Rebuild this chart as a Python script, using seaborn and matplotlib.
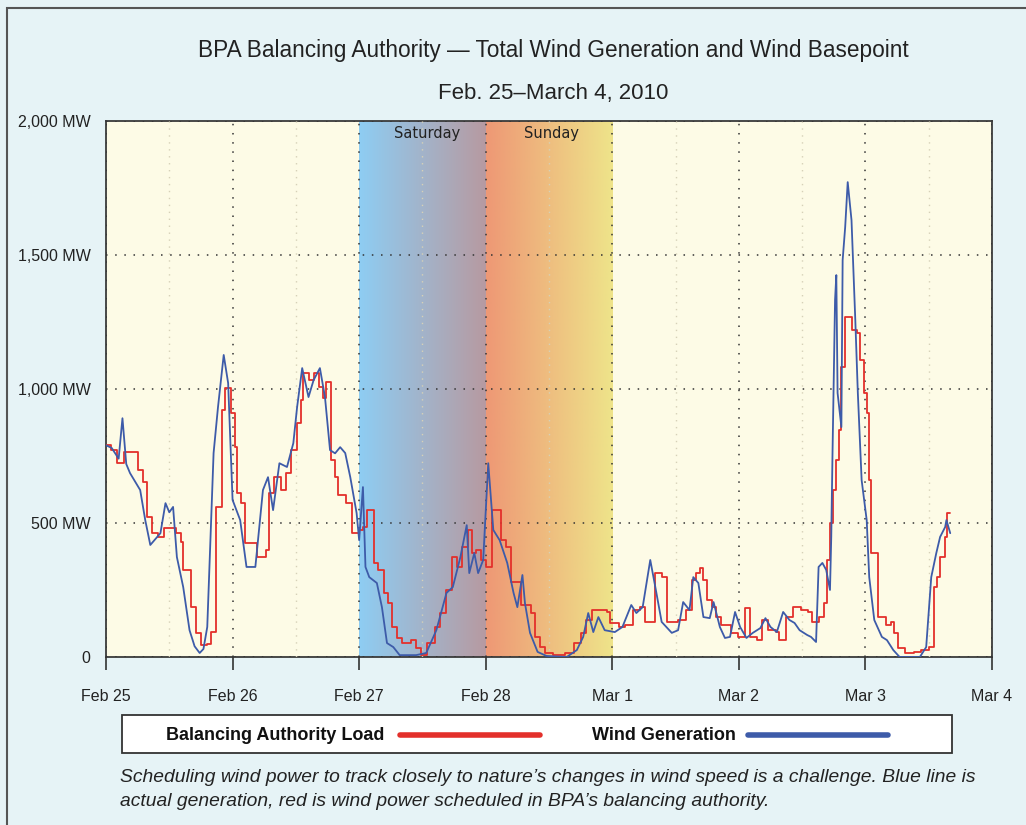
import numpy as np
import pandas as pd
import seaborn as sns
import matplotlib.pyplot as plt
from matplotlib.patches import Rectangle
from matplotlib.lines import Line2D
from matplotlib.colors import to_rgb

# days since Feb 25 00:00, MW
wind_days = [0.0, 0.045, 0.10, 0.13, 0.16, 0.19, 0.27, 0.31, 0.35, 0.39, 0.43, 0.47, 0.50, 0.53, 0.56,
             0.61, 0.66, 0.70, 0.74, 0.77, 0.80, 0.85, 0.885, 0.93, 0.965, 1.0, 1.06, 1.11, 1.18, 1.24,
             1.28, 1.32, 1.37, 1.43, 1.48, 1.51, 1.55, 1.60, 1.64, 1.69, 1.73, 1.77, 1.81, 1.85, 1.89,
             1.93, 1.98, 2.0, 2.03, 2.05, 2.08, 2.14, 2.18, 2.22, 2.27, 2.32, 2.45, 2.53, 2.61, 2.69,
             2.74, 2.80, 2.85, 2.87, 2.91, 2.94, 2.98, 3.02, 3.06, 3.11, 3.17, 3.22, 3.25, 3.29, 3.31,
             3.35, 3.41, 3.48, 3.64, 3.72, 3.77, 3.81, 3.85, 3.89, 3.94, 4.02, 4.08, 4.15, 4.19, 4.24,
             4.30, 4.34, 4.39, 4.47, 4.52, 4.56, 4.61, 4.64, 4.68, 4.72, 4.77, 4.80, 4.85, 4.89, 4.93,
             4.97, 5.01, 5.06, 5.11, 5.17, 5.21, 5.25, 5.30, 5.35, 5.40, 5.44, 5.48, 5.54, 5.57, 5.61,
             5.63, 5.66, 5.69, 5.72, 5.73, 5.74, 5.76, 5.77, 5.78, 5.81, 5.82, 5.84, 5.86, 5.89, 5.92,
             5.94, 5.97, 6.01, 6.03, 6.07, 6.13, 6.17, 6.22, 6.27, 6.43, 6.48, 6.52, 6.56, 6.59, 6.63,
             6.64, 6.67]
wind_mw = [790, 780, 740, 891, 720, 686, 623, 511, 418, 440, 462, 574, 540, 560, 373,
           261, 100, 40, 15, 30, 112, 761, 933, 1127, 1022, 586, 511, 336, 336, 623,
           671, 548, 723, 709, 798, 933, 1078, 970, 1033, 1078, 970, 772, 760, 783, 761,
           671, 537, 436, 634, 336, 298, 276, 186, 52, 37, 7, 7, 15, 100, 239,
           261, 373, 492, 313, 388, 313, 362, 723, 474, 436, 351, 239, 186, 306, 201,
           90, 19, 4, 0, 26, 75, 164, 93, 149, 100, 93, 112, 194, 164, 186,
           362, 261, 131, 90, 100, 205, 175, 298, 276, 149, 145, 205, 112, 71, 75,
           168, 112, 71, 90, 108, 145, 112, 93, 168, 138, 127, 100, 82, 75, 56,
           336, 351, 325, 250, 448, 761, 1332, 1425, 985, 858, 1481, 1604, 1772, 1630, 1257,
           985, 660, 511, 298, 138, 75, 63, 26, 0, 0, 37, 298, 388, 448, 485,
           511, 462]

load_days = [0.0, 0.04, 0.09, 0.14, 0.25, 0.29, 0.32, 0.36, 0.41, 0.46, 0.55, 0.59, 0.61, 0.67, 0.71,
             0.75, 0.80, 0.83, 0.87, 0.915, 0.94, 0.99, 1.02, 1.035, 1.07, 1.10, 1.195, 1.265, 1.29, 1.33,
             1.38, 1.42, 1.46, 1.51, 1.54, 1.56, 1.60, 1.64, 1.68, 1.715, 1.74, 1.775, 1.81, 1.83, 1.90,
             1.94, 2.0, 2.03, 2.06, 2.115, 2.15, 2.20, 2.23, 2.26, 2.30, 2.34, 2.41, 2.45, 2.49, 2.54,
             2.60, 2.64, 2.69, 2.73, 2.77, 2.81, 2.86, 2.89, 2.92, 2.96, 3.0, 3.05, 3.12, 3.16, 3.20,
             3.28, 3.36, 3.39, 3.43, 3.47, 3.53, 3.63, 3.70, 3.75, 3.79, 3.84, 3.96, 3.98, 4.05, 4.10,
             4.16, 4.22, 4.26, 4.34, 4.39, 4.43, 4.52, 4.58, 4.63, 4.66, 4.69, 4.72, 4.75, 4.79, 4.82,
             4.86, 4.94, 4.99, 5.05, 5.09, 5.14, 5.18, 5.23, 5.29, 5.32, 5.37, 5.43, 5.49, 5.55, 5.58,
             5.63, 5.67, 5.70, 5.72, 5.745, 5.77, 5.795, 5.81, 5.835, 5.89, 5.93, 5.96, 5.985, 6.01, 6.025,
             6.045, 6.10, 6.16, 6.20, 6.225, 6.26, 6.31, 6.38, 6.44, 6.50, 6.545, 6.565, 6.59, 6.63, 6.645,
             6.67]
load_mw = [790, 772, 723, 765, 697, 653, 522, 462, 448, 481, 462, 429, 325, 186, 90,
           45, 50, 93, 560, 921, 1003, 910, 783, 612, 574, 425, 373, 399, 612, 671,
           623, 686, 772, 873, 959, 1059, 1033, 1059, 1007, 966, 1026, 735, 671, 604, 574,
           462, 474, 485, 548, 351, 325, 239, 201, 112, 71, 52, 63, 34, 7, 52,
           112, 164, 250, 373, 336, 410, 474, 388, 399, 362, 336, 548, 436, 410, 280,
           194, 164, 75, 37, 15, 7, 15, 52, 90, 138, 175, 168, 127, 112, 119,
           175, 186, 131, 313, 298, 131, 138, 175, 287, 313, 332, 287, 213, 186, 149,
           119, 90, 75, 183, 75, 63, 138, 100, 93, 63, 149, 186, 175, 168, 131,
           149, 201, 362, 500, 623, 735, 847, 1082, 1268, 1220, 1208, 1108, 985, 910, 660,
           388, 149, 119, 131, 90, 34, 15, 19, 26, 37, 261, 298, 373, 448, 537,
           537]

day_labels = ["Feb 25", "Feb 26", "Feb 27", "Feb 28", "Mar 1", "Mar 2", "Mar 3", "Mar 4"]
y_ticks = [0, 500, 1000, 1500, 2000]
y_labels = ["0", "500 MW", "1,000 MW", "1,500 MW", "2,000 MW"]

wind = pd.DataFrame({"day": wind_days, "mw": wind_mw})
load = pd.DataFrame({"day": load_days, "mw": load_mw})

sns.set_style("white")
plt.rcParams["font.family"] = ["Liberation Sans", "DejaVu Sans"]

RED = "#e3302b"
BLUE = "#3d5ba9"

fig = plt.figure(figsize=(10.26, 8.25), dpi=100, facecolor="#e6f3f6")
ax = fig.add_axes([106 / 1026, 1 - 657 / 825, 886 / 1026, 536 / 825])
ax.set_facecolor("#fdfbe6")

# weekend gradients
def gradient(c1, c2, x0, x1):
    a = np.array(to_rgb(c1))
    b = np.array(to_rgb(c2))
    t = np.linspace(0, 1, 256)[None, :, None]
    img = a + (b - a) * t
    ax.imshow(img, extent=[x0, x1, 0, 2000], aspect="auto", zorder=0.5, interpolation="bilinear")

gradient("#8ecdf3", "#b79aa1", 2, 3)
gradient("#ee9875", "#eee48a", 3, 4)

sns.lineplot(data=load, x="day", y="mw", ax=ax, color=RED, lw=1.3, drawstyle="steps-post",
             sort=False, estimator=None, zorder=3)
sns.lineplot(data=wind, x="day", y="mw", ax=ax, color=BLUE, lw=1.3, sort=False,
             estimator=None, zorder=4)

ax.set_xlim(0, 7)
ax.set_ylim(0, 2000)
ax.set_xticks(range(8))
ax.set_xticklabels(day_labels, fontsize=11.5, color="#222")
ax.set_xticks(np.arange(0.5, 7, 1), minor=True)
ax.set_yticks(y_ticks)
ax.set_yticklabels(y_labels, fontsize=11.5, color="#222")
ax.set_xlabel("")
ax.set_ylabel("")
ax.tick_params(axis="x", which="major", bottom=True, direction="out", length=9, width=1.2,
               color="#333", pad=14)
ax.tick_params(axis="x", which="minor", bottom=False, length=0)
ax.tick_params(axis="y", left=False, length=0, pad=11)

ax.grid(True, which="major", color="#333", lw=1.1, ls=(0, (1, 5)), zorder=1)
ax.grid(True, which="minor", axis="x", color="#d6d1b8", lw=1, ls=(0, (1, 4)), zorder=1)
ax.set_axisbelow(False)
for s in ax.spines.values():
    s.set_color("#3a3a3a")
    s.set_linewidth(1.3)
for gl in ax.get_xgridlines() + ax.get_ygridlines():
    gl.set_zorder(1)

ax.text(2.535, 1955, "Saturday", ha="center", va="center", fontsize=10.5, family="DejaVu Sans", color="#222")
ax.text(3.52, 1955, "Sunday", ha="center", va="center", fontsize=10.5, family="DejaVu Sans", color="#222")

# titles
fig.text(553 / 1026, 1 - 50 / 825, "BPA Balancing Authority \u2014 Total Wind Generation and Wind Basepoint",
         ha="center", va="center", fontsize=16.3, color="#222")
fig.text(553 / 1026, 1 - 93 / 825, "Feb. 25\u2013March 4, 2010", ha="center", va="center",
         fontsize=16, color="#222")

# legend box
fig.patches.append(Rectangle((122 / 1026, 1 - 753 / 825), 830 / 1026, 38 / 825, transform=fig.transFigure,
                             facecolor="white", edgecolor="#333", lw=1.3))
ly = 1 - 735 / 825
fig.text(166 / 1026, ly, "Balancing Authority Load", fontweight="bold", fontsize=13,
         va="center", color="#111")
fig.lines.append(Line2D([400 / 1026, 540 / 1026], [ly, ly], transform=fig.transFigure, color=RED, lw=4))
fig.text(592 / 1026, ly, "Wind Generation", fontweight="bold", fontsize=13,
         va="center", color="#111")
fig.lines.append(Line2D([748 / 1026, 888 / 1026], [ly, ly], transform=fig.transFigure, color=BLUE, lw=4))

fig.text(120 / 1026, 1 - 777 / 825,
         "Scheduling wind power to track closely to nature\u2019s changes in wind speed is a challenge. Blue line is",
         style="italic", fontsize=13.9, va="center", color="#222")
fig.text(120 / 1026, 1 - 802 / 825,
         "actual generation, red is wind power scheduled in BPA\u2019s balancing authority.",
         style="italic", fontsize=13.9, va="center", color="#222")

# outer frame
fig.patches.append(Rectangle((7 / 1026, -0.05), 1.2, 1 - 8 / 825 + 0.05, transform=fig.transFigure,
                             facecolor="none", edgecolor="#555", lw=1.5))

fig.savefig("out.png", dpi=100, facecolor=fig.get_facecolor())
